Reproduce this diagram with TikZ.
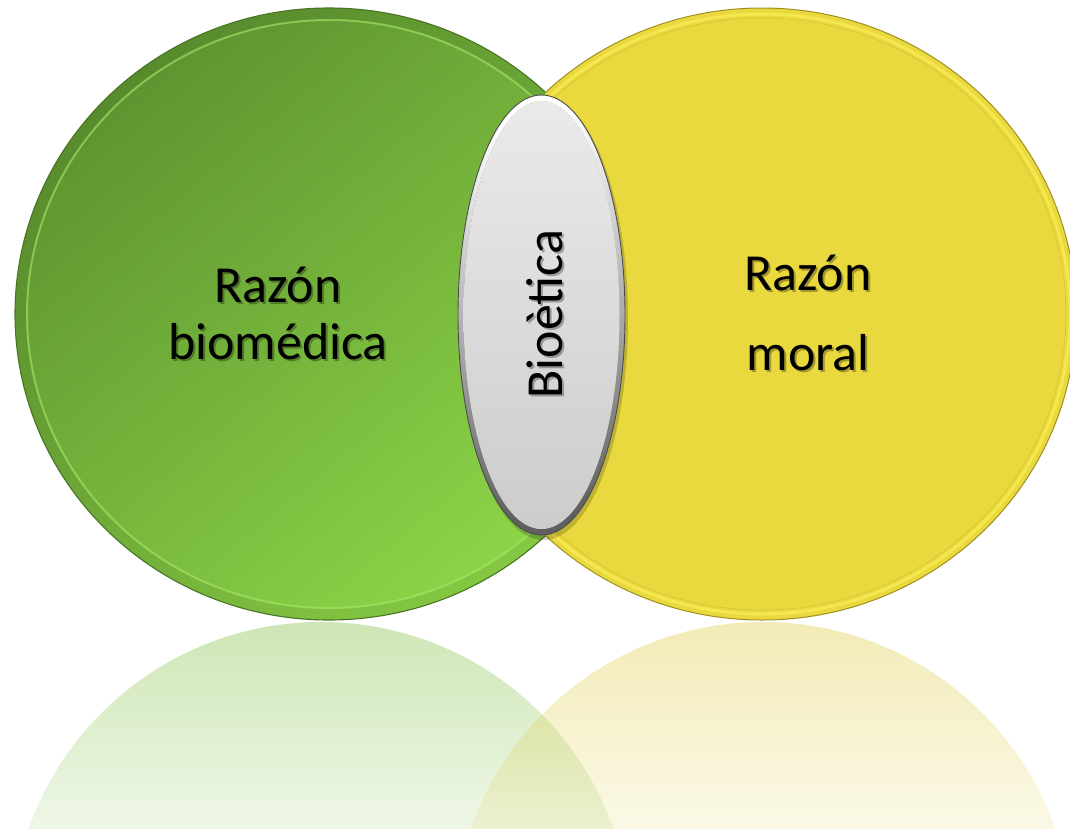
\documentclass[tikz,border=0pt]{standalone}
\usepackage{fontspec}
\setmainfont{Carlito}
\usetikzlibrary{fadings}

\definecolor{gdark}{HTML}{5E9430}
\definecolor{glight}{HTML}{8DD548}
\definecolor{grim}{HTML}{4A7524}
\definecolor{ghigh}{HTML}{A6EA6A}
\definecolor{yfill}{HTML}{EAD93E}
\definecolor{yrim}{HTML}{9E9020}
\definecolor{yhigh}{HTML}{FFF35C}
\definecolor{gref}{HTML}{86C24C}
\definecolor{yref}{HTML}{E0CE4E}
\definecolor{etop}{HTML}{EAEAEA}
\definecolor{ebot}{HTML}{CCCCCC}

% reflection fade: half opaque at the top, fully transparent at the bottom
\tikzfading[name=reflfade, top color=transparent!45, bottom color=transparent!100]

\begin{document}
\begin{tikzpicture}[x=1pt, y=-1pt,
  lbl/.style={font=\fontsize{52}{57}\selectfont, align=center, text=black, inner sep=0pt},
  lblshadow/.style={lbl, text=black, opacity=0.3},
]
\useasboundingbox (0,0) rectangle (1070,828);

% ---- mirrored reflections below the discs ----
\begin{scope}
  \clip (321,932) circle[radius=310];
  \fill[gref, path fading=reflfade] (0,516) rectangle (1070,932);
\end{scope}
\begin{scope}
  \clip (763,932) circle[radius=310];
  \fill[yref, path fading=reflfade] (0,516) rectangle (1070,932);
\end{scope}

% ---- yellow disc ----
\fill[yfill] (762,314) ellipse[x radius=314, y radius=306];
\draw[yhigh, line width=3, opacity=0.55] (762,314) ellipse[x radius=308, y radius=300];
\draw[yrim, line width=0.6, opacity=0.3] (762,314) ellipse[x radius=304, y radius=296];
\draw[yrim, line width=1] (762,314) ellipse[x radius=314, y radius=306];

% ---- green disc (in front on its own side) ----
\begin{scope}
  \clip (0,0) rectangle (545,828);
  \shade[top color=gdark, bottom color=glight, shading angle=40]
    (329,314) ellipse[x radius=314, y radius=306];
  \fill[black, opacity=0.06, even odd rule]
    (329,314) ellipse[x radius=314, y radius=306]
    (329,314) ellipse[x radius=302, y radius=294];
  \draw[ghigh, line width=2, opacity=0.6] (329,314) ellipse[x radius=302, y radius=294];
  \draw[grim, line width=1.1] (329,314) ellipse[x radius=314, y radius=306];
\end{scope}

% ---- central lens ----
\fill[black, opacity=0.18] (543.5,318.5) ellipse[x radius=84.5, y radius=221.5];
\shade[left color=white, right color=gray!75!black, shading angle=10, even odd rule]
  (541.5,315) ellipse[x radius=83.5, y radius=220]
  (541.5,315) ellipse[x radius=78, y radius=214];
\shade[top color=etop, bottom color=ebot] (541.5,315) ellipse[x radius=78, y radius=214];
\draw[gray!60!black, line width=0.9] (541.5,315) ellipse[x radius=83.5, y radius=220];

% ---- labels, each with a soft drop shadow ----
\node[lblshadow] at (280,315) {Razón\\biomédica};
\node[lbl] (bio) at (278,313) {Razón\\biomédica};
\node[lblshadow] at (810,315) {Razón\\[23pt]moral};
\node[lbl] (mor) at (808,313) {Razón\\[23pt]moral};
\node[lblshadow, rotate=90] at (547,316) {Bioètica};
\node[lbl, rotate=90] (bet) at (545,314) {Bioètica};
\end{tikzpicture}
\end{document}
